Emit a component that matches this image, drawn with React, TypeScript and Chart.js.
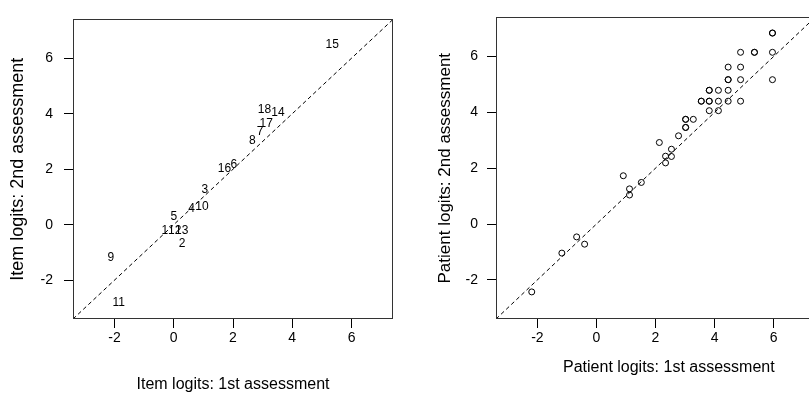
import React, { useEffect, useRef } from "react";
import { Chart, registerables } from "chart.js";

Chart.register(...registerables);

// ---- axis settings (both panels share xlim = ylim) ----
const AXIS_MIN = -3.4;
const AXIS_MAX = 7.4;
const tickValues = [-2, 0, 2, 4, 6];

// ---- left panel: item logits ----
const itemLabels = ["1", "2", "3", "4", "5", "6", "7", "8", "9", "10", "11", "12", "13", "14", "15", "16", "17", "18"];
const itemFirst = [-0.3, 0.28, 1.05, 0.6, 0.0, 2.03, 2.91, 2.65, -2.12, 0.95, -1.86, 0.03, 0.27, 3.52, 5.35, 1.71, 3.12, 3.06];
const itemSecond = [-0.23, -0.68, 1.27, 0.57, 0.28, 2.17, 3.37, 3.02, -1.2, 0.66, -2.81, -0.23, -0.23, 4.03, 6.49, 2.03, 3.64, 4.15];

// ---- right panel: patient logits ----
const patientFirst = [
  -2.19, -1.17, -0.67, -0.4, 0.91, 1.12, 1.12, 1.52, 2.13, 2.34, 2.34, 2.54, 2.54, 2.78,
  3.02, 3.02, 3.02, 3.02, 3.28, 3.55, 3.55, 3.82, 3.82, 3.82, 3.82, 3.82,
  4.13, 4.13, 4.13, 4.46, 4.46, 4.46, 4.46, 4.46, 4.88, 4.88, 4.88, 4.88,
  5.35, 5.35, 5.96, 5.96, 5.96, 5.96,
];
const patientSecond = [
  -2.43, -1.04, -0.46, -0.72, 1.73, 1.26, 1.04, 1.49, 2.92, 2.43, 2.19, 2.68, 2.42, 3.16,
  3.75, 3.75, 3.46, 3.46, 3.75, 4.4, 4.4, 4.79, 4.79, 4.4, 4.4, 4.06,
  4.79, 4.4, 4.06, 5.62, 5.17, 5.17, 4.79, 4.4, 6.15, 5.62, 5.17, 4.4,
  6.15, 6.15, 6.84, 6.84, 6.15, 5.17,
];

const FONT = "'Liberation Sans', Arial, Helvetica, sans-serif";

const framePlugin = {
  id: "frame",
  afterDatasetsDraw(chart: any) {
    const { ctx, chartArea: a } = chart;
    ctx.save();
    ctx.strokeStyle = "#333";
    ctx.lineWidth = 1;
    const l = Math.round(a.left) + 0.5;
    const t = Math.round(a.top) + 0.5;
    const r = Math.round(a.right) - 0.5;
    const b = Math.round(a.bottom) - 0.5;
    ctx.strokeRect(l, t, r - l, b - t);
    ctx.restore();
  },
};

const itemTextPlugin = {
  id: "itemText",
  afterDatasetsDraw(chart: any) {
    const ds = chart.data.datasets.findIndex((d: any) => d.label === "items");
    if (ds < 0) return;
    const meta = chart.getDatasetMeta(ds);
    const { ctx } = chart;
    ctx.save();
    ctx.fillStyle = "#000";
    ctx.font = `12px ${FONT}`;
    ctx.textAlign = "center";
    ctx.textBaseline = "middle";
    meta.data.forEach((el: any, i: number) => {
      ctx.fillText(itemLabels[i], el.x, el.y);
    });
    ctx.restore();
  },
};

function axisOpts(axis: "x" | "y", title: string, titleSize: number, titlePad: any, tickPad: number, size: number) {
  return {
    type: "linear",
    min: AXIS_MIN,
    max: AXIS_MAX,
    afterBuildTicks: (s: any) => {
      s.ticks = tickValues.map((v) => ({ value: v }));
    },
    afterFit: (s: any) => {
      if (axis === "x") s.height = size;
      else s.width = size;
    },
    grid: { display: true, drawOnChartArea: false, drawTicks: true, tickLength: 9, color: "#000", lineWidth: 1 },
    border: { display: false },
    ticks: {
      color: "#000",
      font: { family: FONT, size: 14 },
      padding: tickPad,
      maxRotation: 0,
      autoSkip: false,
      callback: (v: any) => String(v),
    },
    title: {
      display: true,
      text: title,
      color: "#000",
      font: { family: FONT, size: titleSize },
      padding: titlePad,
    },
  };
}

const diagonal = [
  { x: AXIS_MIN, y: AXIS_MIN },
  { x: AXIS_MAX, y: AXIS_MAX },
];

function diagonalDataset() {
  return {
    label: "identity",
    data: diagonal,
    showLine: true,
    borderColor: "#000",
    borderWidth: 1,
    borderDash: [4, 3],
    pointRadius: 0,
    fill: false,
  };
}

function ItemPanel() {
  const ref = useRef<HTMLCanvasElement | null>(null);
  useEffect(() => {
    if (!ref.current) return;
    const chart = new Chart(ref.current, {
      type: "scatter",
      data: {
        datasets: [
          diagonalDataset(),
          {
            label: "items",
            data: itemFirst.map((x, i) => ({ x, y: itemSecond[i] })),
            pointRadius: 0,
            pointHoverRadius: 0,
          },
        ],
      } as any,
      options: {
        responsive: false,
        animation: false,
        events: [],
        layout: { padding: { left: 0, right: 27, top: 10, bottom: 0 } },
        plugins: { legend: { display: false }, tooltip: { enabled: false } },
        scales: {
          x: axisOpts("x", "Item logits: 1st assessment", 16, { top: 0, bottom: 5 }, 2, 80),
          y: axisOpts("y", "Item logits: 2nd assessment", 18, { top: 7, bottom: 0 }, 11, 73),
        },
      } as any,
      plugins: [framePlugin, itemTextPlugin],
    });
    return () => chart.destroy();
  }, []);
  return <canvas ref={ref} width={420} height={399} />;
}

function PatientPanel() {
  const ref = useRef<HTMLCanvasElement | null>(null);
  useEffect(() => {
    if (!ref.current) return;
    const chart = new Chart(ref.current, {
      type: "scatter",
      data: {
        datasets: [
          diagonalDataset(),
          {
            label: "patients",
            data: patientFirst.map((x, i) => ({ x, y: patientSecond[i] })),
            pointStyle: "circle",
            pointRadius: 3,
            pointBorderWidth: 1,
            borderWidth: 1,
            borderColor: "#000",
            backgroundColor: "rgba(0,0,0,0)",
          },
        ],
      } as any,
      options: {
        responsive: false,
        animation: false,
        events: [],
        layout: { padding: { left: 0, right: 5, top: 9, bottom: 0 } },
        plugins: { legend: { display: false }, tooltip: { enabled: false } },
        scales: {
          x: axisOpts("x", "      Patient logits: 1st assessment", 16, { top: 0, bottom: 22 }, 2, 80),
          y: axisOpts("y", "Patient logits: 2nd assessment", 17, { top: 15, bottom: 0 }, 9, 76),
        },
      } as any,
      plugins: [framePlugin],
    });
    return () => chart.destroy();
  }, []);
  return <canvas ref={ref} width={400} height={399} />;
}

export default function App() {
  return (
    <div
      style={{
        position: "absolute",
        left: 0,
        top: 0,
        width: 809,
        height: 399,
        overflow: "hidden",
        background: "#fff",
      }}
    >
      <div style={{ position: "absolute", left: 0, top: 0 }}>
        <ItemPanel />
      </div>
      <div style={{ position: "absolute", left: 420, top: 0 }}>
        <PatientPanel />
      </div>
    </div>
  );
}
